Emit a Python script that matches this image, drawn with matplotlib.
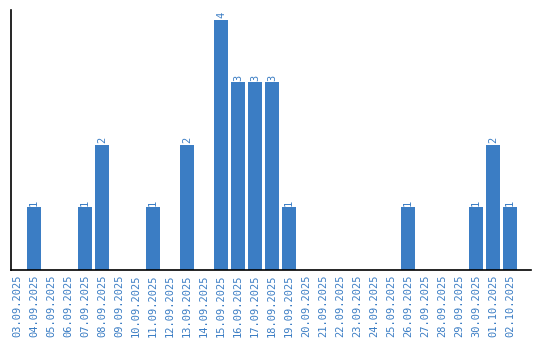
import numpy as np
import matplotlib
matplotlib.use("Agg")
import matplotlib.pyplot as plt

# data
dates = ["03.09.2025", "04.09.2025", "05.09.2025", "06.09.2025", "07.09.2025",
         "08.09.2025", "09.09.2025", "10.09.2025", "11.09.2025", "12.09.2025",
         "13.09.2025", "14.09.2025", "15.09.2025", "16.09.2025", "17.09.2025",
         "18.09.2025", "19.09.2025", "20.09.2025", "21.09.2025", "22.09.2025",
         "23.09.2025", "24.09.2025", "25.09.2025", "26.09.2025", "27.09.2025",
         "28.09.2025", "29.09.2025", "30.09.2025", "01.10.2025", "02.10.2025"]
counts = [0, 1, 0, 0, 1, 2, 0, 0, 1, 0, 2, 0, 4, 3, 3, 3, 1,
          0, 0, 0, 0, 0, 0, 1, 0, 0, 0, 1, 2, 1]

blue = "#3b7dc4"

fig = plt.figure(figsize=(5.4, 3.4), dpi=100)
ax = fig.add_axes([0.0204, 0.206, 0.963, 0.765])

x = np.arange(len(dates))
ax.bar(x, counts, width=0.82, color=blue)

for xi, c in zip(x, counts):
    if c > 0:
        ax.text(xi, c + 0.03, str(c), rotation=90, ha="center", va="bottom",
                color=blue, fontsize=7.5, family="DejaVu Sans Mono")

ax.set_xlim(-0.35, len(dates) + 0.24)
ax.set_ylim(0, 4.16)
ax.set_xticks(x)
ax.set_xticklabels(dates, rotation=90, color=blue, fontsize=7.5,
                   family="DejaVu Sans Mono")
ax.set_yticks([])
ax.tick_params(axis="x", length=0, pad=3)

ax.spines["top"].set_visible(False)
ax.spines["right"].set_visible(False)
ax.spines["left"].set_linewidth(1.2)
ax.spines["bottom"].set_linewidth(1.2)

plt.savefig("out.png", dpi=100)
plt.close(fig)
